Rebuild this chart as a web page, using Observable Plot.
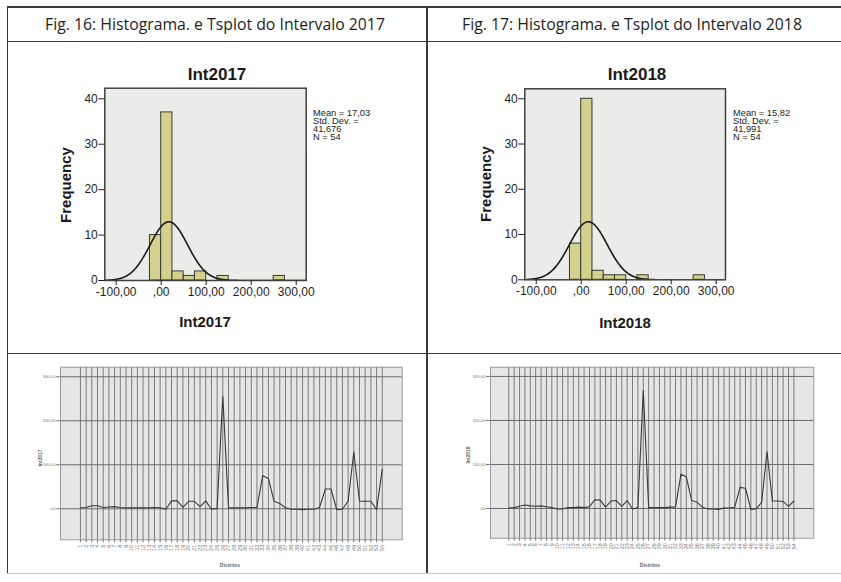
<!DOCTYPE html>
<html>
<head>
<meta charset="utf-8">
<script src="https://cdn.jsdelivr.net/npm/d3@7"></script>
<script src="https://cdn.jsdelivr.net/npm/@observablehq/plot@0.6"></script>
<style>
  body { margin: 0; background: #fff; }
  #page { position: relative; width: 841px; height: 582px; overflow: hidden; background: #fff;
          font-family: "Liberation Sans", Arial, sans-serif; }
  .rule { position: absolute; background: #3a3a3a; }
  .lbl { position: absolute; white-space: nowrap; transform: translate(-50%, -50%); color: #1a1a1a; }
  .lbl.rot { transform: translate(-50%, -50%) rotate(-90deg); }
  .head { font-family: "Open Sans", sans-serif; font-size: 15.8px; color: #1e1e1e; }
  .stats { position: absolute; font-size: 9.3px; line-height: 8px; color: #222; white-space: pre; }
</style>
</head>
<body>
<div id="page"></div>
<script>
// ---- Histogram data (bin width 25) ----
const binWidth = 25;
const binStarts = [-25, 0, 25, 50, 75, 125, 250];
const freq2017 = [10, 37, 2, 1, 2, 1, 1];
const freq2018 = [8, 40, 2, 1, 1, 1, 1];
const mean2017 = 17.03, sd2017 = 41.676, n2017 = 54;
const mean2018 = 15.82, sd2018 = 41.991, n2018 = 54;
const histTicksX = [-100, 0, 100, 200, 300];
const histTicksY = [0, 10, 20, 30, 40];

// ---- Sequence (tsplot) data: one value per case ----
const cases = [1,2,3,4,5,6,7,8,9,10,11,12,13,14,15,16,17,18,19,20,21,22,23,24,25,26,27,
               28,29,30,31,32,33,34,35,36,37,38,39,40,41,42,43,44,45,46,47,48,49,50,51,52,53,54];
const int2017 = [2,3,7,7,3,4,5,3,2,2,2,2,2,3,2,-1,18,18,3,17,17,5,18,-1,1,255,2,
                 2,2,2,3,3,75,69,17,12,2,-1,-1,-2,-1,-1,3,45,45,-2,-1,17,129,17,17,17,-2,90];
const int2018 = [1,2,5,8,6,5,6,4,2,-1,-1,2,2,3,2,4,20,19,3,17,18,5,18,-1,2,268,2,
                 2,2,2,3,3,78,72,18,14,3,-1,-1,-2,1,1,3,48,46,-2,-1,14,129,17,17,16,5,17];
const tsTicksY = [0, 100, 200, 300];

const page = document.getElementById("page");
const commaFmt = d => d === 0 ? ",00" : d.toFixed(2).replace(".", ",");
const commaNum = (d, k) => d.toFixed(k).replace(".", ",");

function place(el, left, top) {
  el.style.position = "absolute";
  el.style.left = left + "px";
  el.style.top = top + "px";
  el.style.background = "transparent";
  el.style.overflow = "visible";
  el.style.maxWidth = "none";
  page.appendChild(el);
}
function label(text, x, y, css, rotate, cls) {
  const d = document.createElement("div");
  d.className = "lbl" + (rotate ? " rot" : "") + (cls ? " " + cls : "");
  d.textContent = text;
  d.style.left = x + "px";
  d.style.top = y + "px";
  Object.assign(d.style, css || {});
  page.appendChild(d);
}
function rule(x, y, w, h, color) {
  const d = document.createElement("div");
  d.className = "rule";
  Object.assign(d.style, {left: x + "px", top: y + "px", width: w + "px", height: h + "px"});
  if (color) d.style.background = color;
  page.appendChild(d);
}

function histogram({freq, mean, sd, n, xDomain, yDomain, width, height, margin}) {
  const bars = binStarts.map((b, i) => ({x1: b, x2: b + binWidth, count: freq[i]}));
  // fitted normal curve scaled to the histogram counts
  const curve = d3.range(xDomain[0], xDomain[1] + 0.5, 1).map(x => ({
    x, y: n * binWidth * Math.exp(-0.5 * ((x - mean) / sd) ** 2) / (sd * Math.sqrt(2 * Math.PI))
  }));
  return Plot.plot({
    width, height, ...margin,
    x: {domain: xDomain},
    y: {domain: yDomain},
    style: {fontFamily: '"Liberation Sans", Arial, sans-serif', fontSize: "12px", color: "#1e1e1e"},
    marks: [
      Plot.frame({fill: "#ebebe9", stroke: "none"}),
      Plot.rectY(bars, {x1: "x1", x2: "x2", y: "count", fill: "#d2d18e", stroke: "#3a3a32", strokeWidth: 1}),
      Plot.line(curve, {x: "x", y: "y", stroke: "#1a1a1a", strokeWidth: 1.6, clip: true}),
      Plot.frame({stroke: "#404040", strokeWidth: 1.5}),
      Plot.axisY(histTicksY, {tickSize: 6, tickPadding: 1, label: null, fontSize: 12}),
      Plot.axisX(histTicksX, {tickSize: 5, tickPadding: 2, label: null, fontSize: 12, tickFormat: commaFmt})
    ]
  });
}

function tsplot({values, xDomain, yDomain, width, height, margin}) {
  const rows = values.map((v, i) => ({c: cases[i], v}));
  return Plot.plot({
    width, height, ...margin,
    x: {domain: xDomain},
    y: {domain: yDomain},
    style: {fontFamily: '"Liberation Sans", Arial, sans-serif', fontSize: "4px", color: "#777"},
    marks: [
      Plot.frame({fill: "#e6e6e6", stroke: "none"}),
      Plot.ruleX(cases, {stroke: "#7c7c7c", strokeWidth: 1}),
      Plot.ruleY(tsTicksY, {stroke: "#6a6a6a", strokeWidth: 1}),
      Plot.line(rows, {x: "c", y: "v", stroke: "#3a3a3a", strokeWidth: 1.1}),
      Plot.frame({stroke: "#999"}),
      Plot.axisY(tsTicksY, {tickSize: 4, tickPadding: 1, label: null, fontSize: 4.2, tickFormat: commaFmt}),
      Plot.axisX(cases, {tickSize: 3, tickPadding: 2, tickRotate: -90, label: null, fontSize: 5.5})
    ]
  });
}

// ---- table rules ----
rule(7, 6, 834, 1.5);      // top
rule(7, 40.5, 834, 1.5);   // below header
rule(7, 352.5, 834, 1.5);  // between rows
rule(7, 572.5, 834, 1, "#c8c8c8"); // bottom
rule(6.5, 6, 1.5, 567);    // left
rule(426, 6, 1.5, 567);    // column divider

// ---- headers ----
label("Fig. 16: Histograma. e Tsplot do Intervalo 2017", 215, 24, {}, false, "head");
label("Fig. 17: Histograma. e Tsplot do Intervalo 2018", 632, 24, {}, false, "head");

// ---- histograms ----
place(histogram({freq: freq2017, mean: mean2017, sd: sd2017, n: n2017,
  xDomain: [-125.3, 322.2], yDomain: [0, 42.33], width: 380, height: 255,
  margin: {marginLeft: 64.3, marginRight: 114.3, marginTop: 7.7, marginBottom: 55}}), 40, 80);
place(histogram({freq: freq2018, mean: mean2018, sd: sd2018, n: n2018,
  xDomain: [-125.4, 320.7], yDomain: [0, 42.2], width: 380, height: 255,
  margin: {marginLeft: 64.3, marginRight: 115, marginTop: 8.3, marginBottom: 55.7}}), 460, 80);

const bold = (size) => ({fontWeight: "bold", fontSize: size + "px", fontFamily: '"Liberation Sans", Arial, sans-serif'});
label("Int2017", 217, 75, bold(17));
label("Frequency", 65, 185, bold(15), true);
label("Int2017", 205, 321, bold(15));
label("Int2018", 637, 75, bold(17));
label("Frequency", 485, 184, bold(15), true);
label("Int2018", 625, 321.5, bold(15));

function stats(x, y, mean, sd, n) {
  const d = document.createElement("div");
  d.className = "stats";
  d.style.left = x + "px";
  d.style.top = y + "px";
  d.textContent = `Mean = ${commaNum(mean, 2)}\nStd. Dev. =\n${commaNum(sd, 3)}\nN = ${n}`;
  page.appendChild(d);
}
stats(313, 109, mean2017, sd2017, n2017);
stats(733, 109, mean2018, sd2018, n2018);

// ---- sequence charts ----
place(tsplot({values: int2017, xDomain: [-2.5, 57.5], yDomain: [-70.5, 321.8], width: 395, height: 215,
  margin: {marginLeft: 40, marginRight: 13.3, marginTop: 6.7, marginBottom: 35.7}}), 20, 360);
place(tsplot({values: int2018, xDomain: [-2.4, 57.7], yDomain: [-67.5, 321], width: 395, height: 215,
  margin: {marginLeft: 50, marginRight: 21.7, marginTop: 6.7, marginBottom: 37.3}}), 440, 360);

const tiny = {fontWeight: "bold", fontSize: "5px", color: "#666", fontFamily: '"Liberation Sans", Arial, sans-serif'};
label("Int2017", 40, 458, tiny, true);
label("Distritos", 230, 565, tiny);
label("Int2018", 468, 455, tiny, true);
label("Distritos", 650, 565, tiny);
</script>
</body>
</html>
